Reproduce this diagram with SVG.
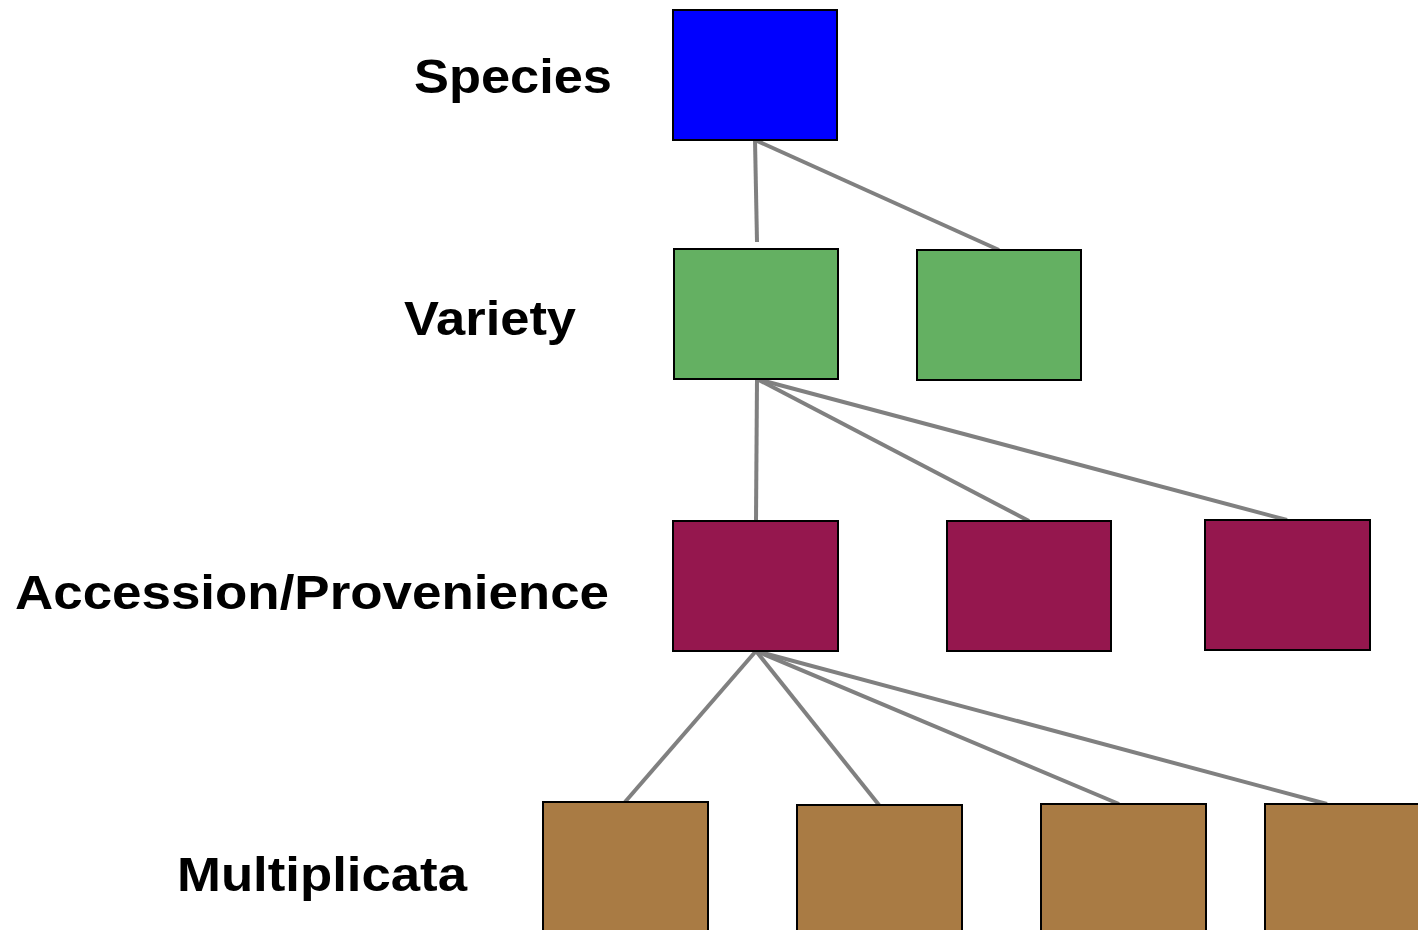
<svg xmlns="http://www.w3.org/2000/svg" width="1418" height="930" viewBox="0 0 1418 930">
<style>
.lbl{font-family:"Liberation Sans",Arial,sans-serif;font-weight:bold;font-size:49px;fill:#000}
.box{stroke:#000;stroke-width:2}
.sp{fill:#0000ff}.va{fill:#64b062}.ac{fill:#95174e}.mu{fill:#a97b44}
.con line{stroke:#808080;stroke-width:4}
</style>
<rect width="1418" height="930" fill="#fff"/>
<g class="con" id="connectors">
<line x1="755" y1="140" x2="757" y2="242"/>
<line x1="755" y1="140" x2="999" y2="250"/>
<line x1="757" y1="379" x2="756" y2="521"/>
<line x1="757" y1="379" x2="1029" y2="521"/>
<line x1="757" y1="379" x2="1287" y2="520"/>
<line x1="756" y1="651" x2="625" y2="802"/>
<line x1="756" y1="651" x2="879" y2="805"/>
<line x1="756" y1="651" x2="1119" y2="804"/>
<line x1="756" y1="651" x2="1327" y2="804"/>
</g>
<g id="species"><rect class="box sp" x="673" y="10" width="164" height="130"/></g>
<g id="variety1"><rect class="box va" x="674" y="249" width="164" height="130"/></g>
<g id="variety2"><rect class="box va" x="917" y="250" width="164" height="130"/></g>
<g id="acc1"><rect class="box ac" x="673" y="521" width="165" height="130"/></g>
<g id="acc2"><rect class="box ac" x="947" y="521" width="164" height="130"/></g>
<g id="acc3"><rect class="box ac" x="1205" y="520" width="165" height="130"/></g>
<g id="mult1"><rect class="box mu" x="543" y="802" width="165" height="140"/></g>
<g id="mult2"><rect class="box mu" x="797" y="805" width="165" height="140"/></g>
<g id="mult3"><rect class="box mu" x="1041" y="804" width="165" height="140"/></g>
<g id="mult4"><rect class="box mu" x="1265" y="804" width="165" height="140"/></g>
<g id="labels">
<text class="lbl" x="414" y="93" textLength="198" lengthAdjust="spacingAndGlyphs">Species</text>
<text class="lbl" x="404" y="335" textLength="172" lengthAdjust="spacingAndGlyphs">Variety</text>
<text class="lbl" x="15" y="609" textLength="594" lengthAdjust="spacingAndGlyphs">Accession/Provenience</text>
<text class="lbl" x="177" y="891" textLength="290" lengthAdjust="spacingAndGlyphs">Multiplicata</text>
</g>
</svg>
